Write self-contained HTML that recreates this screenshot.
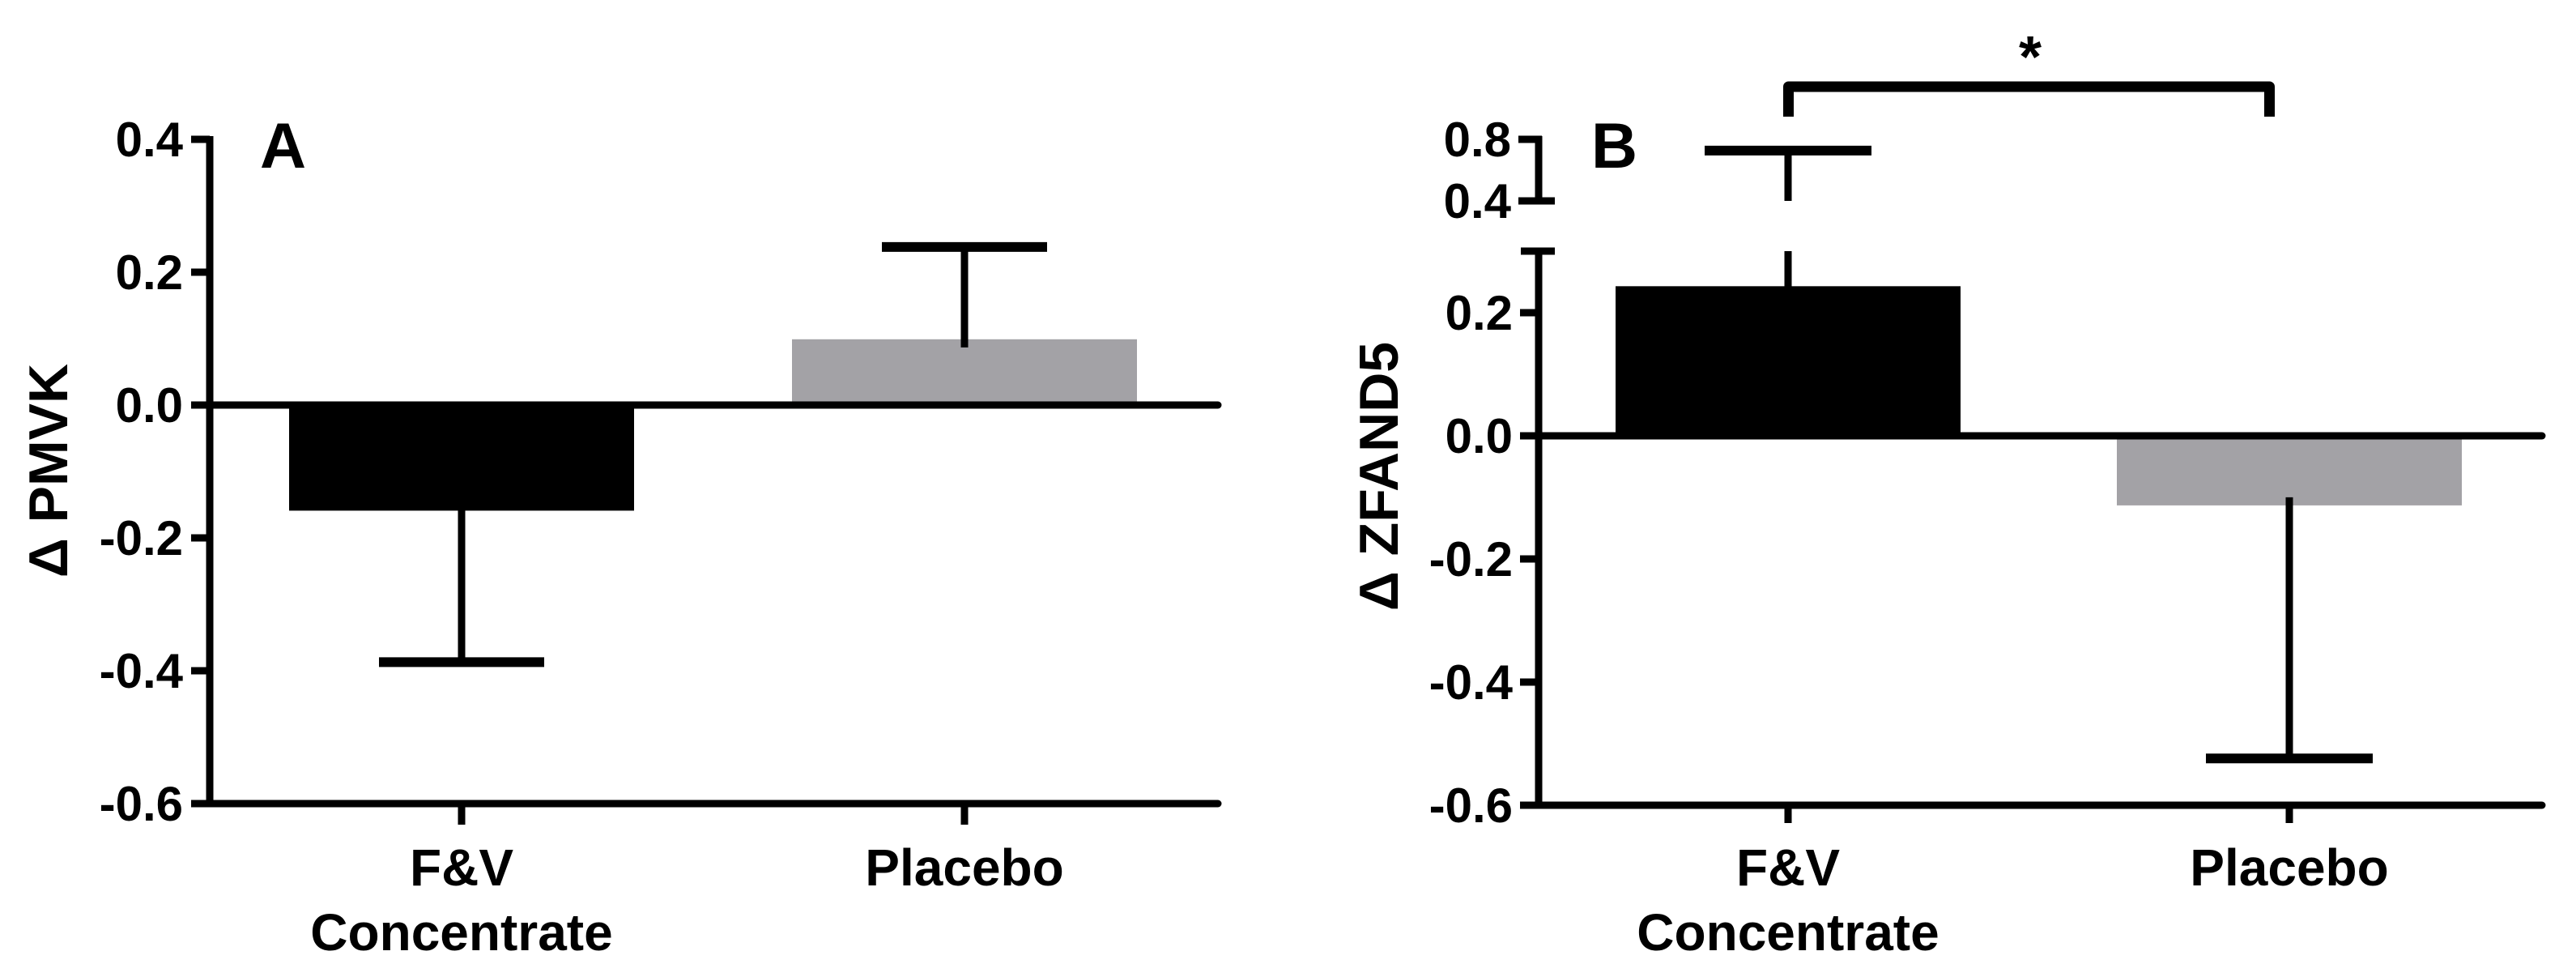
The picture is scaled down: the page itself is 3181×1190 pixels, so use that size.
<!DOCTYPE html>
<html><head><meta charset="utf-8">
<style>
html,body{margin:0;padding:0;background:#fff;}
svg{display:block;}
text{font-family:"Liberation Sans",sans-serif;font-weight:bold;fill:#000;}
</style></head>
<body>
<svg id="chart" width="3181" height="1190" viewBox="0 0 3181 1190" xmlns="http://www.w3.org/2000/svg">
<g id="pa"></g>
<g id="pb"></g>
</svg>
<script>
const categories = ["F&V Concentrate", "Placebo"];
const pmvkValues = [-0.159, 0.099];
const pmvkErrors = [-0.387, 0.238];
const zfandValues = [0.243, -0.113];
const zfandErrors = [0.727, -0.524];
const pmvkTicks = [0.4, 0.2, 0.0, -0.2, -0.4, -0.6];
const zfandLowerTicks = [0.2, 0.0, -0.2, -0.4, -0.6];
const zfandUpperTicks = [0.8, 0.4];
const barColors = ["#000000", "#a3a2a6"];

const NS = "http://www.w3.org/2000/svg";
function mk(parent, tag, attrs, txt) {
  const e = document.createElementNS(NS, tag);
  for (const k in attrs) e.setAttribute(k, attrs[k]);
  if (txt !== undefined) e.textContent = txt;
  parent.appendChild(e);
  return e;
}
function fmt(v){ return (v<0?"-":"") + Math.abs(v).toFixed(1); }

// ---------- Panel A ----------
const pa = document.getElementById("pa");
const yA = v => 500 - v * 820;
const xA = [570, 1191];
const axA = 259, axAEnd = 1504;
const bwA = 426, capA = 204;

pmvkValues.forEach((v, i) => {
  const r = mk(pa, "rect", {x: xA[i] - bwA/2, y: Math.min(yA(v), yA(0)), width: bwA, height: Math.abs(yA(v) - yA(0)), fill: barColors[i]});
  
  
  const eb = mk(pa, "g", {});
  
  
  mk(eb, "line", {x1: xA[i], x2: xA[i], y1: yA(v) + (v<0?-10:10), y2: yA(pmvkErrors[i]), stroke: "#000", "stroke-width": 9});
  mk(eb, "line", {x1: xA[i] - capA/2, x2: xA[i] + capA/2, y1: yA(pmvkErrors[i]), y2: yA(pmvkErrors[i]), stroke: "#000", "stroke-width": 12});
});
const yAxA = mk(pa, "line", {x1: axA, x2: axA, y1: yA(0.4) - 4, y2: yA(-0.6) + 4, stroke: "#000", "stroke-width": 9});


const zA = mk(pa, "line", {x1: axA, x2: axAEnd, y1: yA(0), y2: yA(0), stroke: "#000", "stroke-width": 9, "stroke-linecap": "round"});


const xAxA = mk(pa, "line", {x1: axA, x2: axAEnd, y1: yA(-0.6), y2: yA(-0.6), stroke: "#000", "stroke-width": 9, "stroke-linecap": "round"});


pmvkTicks.forEach(t => {
  mk(pa, "line", {x1: 236, x2: axA, y1: yA(t), y2: yA(t), stroke: "#000", "stroke-width": 9});
  const l = mk(pa, "text", {x: 226, y: yA(t) + 21, "font-size": 60, "text-anchor": "end"}, fmt(t));
  
  
});
xA.forEach(x => mk(pa, "line", {x1: x, x2: x, y1: yA(-0.6), y2: 1018, stroke: "#000", "stroke-width": 9}));
const tA = mk(pa, "text", {x: 0, y: 0, "font-size": 68, "text-anchor": "middle", transform: "translate(83,581) rotate(-90)"}, "\u0394 PMVK");


const lA = mk(pa, "text", {x: 321, y: 207, "font-size": 79}, "A");



function catLabels(g, xs, suffix) {
  const c1 = mk(g, "text", {x: xs[0], y: 1093, "font-size": 64, "text-anchor": "middle"}, "F&V");
  
  
  const c2 = mk(g, "text", {x: xs[0], y: 1173, "font-size": 64, "text-anchor": "middle"}, "Concentrate");
  
  
  const c3 = mk(g, "text", {x: xs[1], y: 1093, "font-size": 64, "text-anchor": "middle"}, "Placebo");
  
  
}
catLabels(pa, xA, 'a');

// ---------- Panel B ----------
const pb = document.getElementById("pb");
const yBl = v => 538 - v * 760;        // lower segment -0.6..0.3
const yBu = v => 248 - (v - 0.4) * 190; // upper segment 0.4..0.8
const yB = v => v > 0.3 ? yBu(v) : yBl(v);
const xB = [2208, 2827];
const axB = 1900, axBEnd = 3139;
const bwB = 426, capB = 206;

zfandValues.forEach((v, i) => {
  const r = mk(pb, "rect", {x: xB[i] - bwB/2, y: Math.min(yBl(v), yBl(0)), width: bwB, height: Math.abs(yBl(v) - yBl(0)), fill: barColors[i]});
  
  
  const eb = mk(pb, "g", {});
  
  
  const e = zfandErrors[i];
  if (e > 0.3) {
    mk(eb, "line", {x1: xB[i], x2: xB[i], y1: yBl(v) + 10, y2: yBl(0.3), stroke: "#000", "stroke-width": 9});
    mk(eb, "line", {x1: xB[i], x2: xB[i], y1: yBu(0.4), y2: yBu(e), stroke: "#000", "stroke-width": 9});
  } else {
    mk(eb, "line", {x1: xB[i], x2: xB[i], y1: yBl(v) - 10, y2: yBl(e), stroke: "#000", "stroke-width": 9});
  }
  mk(eb, "line", {x1: xB[i] - capB/2, x2: xB[i] + capB/2, y1: yB(e), y2: yB(e), stroke: "#000", "stroke-width": 12});
});
const yAxB = mk(pb, "line", {x1: axB, x2: axB, y1: yBl(0.3), y2: yBl(-0.6) + 4, stroke: "#000", "stroke-width": 9});


mk(pb, "line", {x1: 1878, x2: 1920, y1: yBl(0.3), y2: yBl(0.3), stroke: "#000", "stroke-width": 9});
const yAxBu = mk(pb, "line", {x1: axB, x2: axB, y1: yBu(0.8) - 4, y2: yBu(0.4) + 4, stroke: "#000", "stroke-width": 9});


const zB = mk(pb, "line", {x1: axB, x2: axBEnd, y1: yBl(0), y2: yBl(0), stroke: "#000", "stroke-width": 9, "stroke-linecap": "round"});


const xAxB = mk(pb, "line", {x1: axB, x2: axBEnd, y1: yBl(-0.6), y2: yBl(-0.6), stroke: "#000", "stroke-width": 9, "stroke-linecap": "round"});


zfandLowerTicks.forEach(t => {
  mk(pb, "line", {x1: 1877, x2: axB, y1: yBl(t), y2: yBl(t), stroke: "#000", "stroke-width": 9});
  const l = mk(pb, "text", {x: 1868, y: yBl(t) + 21, "font-size": 60, "text-anchor": "end"}, fmt(t));
  
  
});
zfandUpperTicks.forEach(t => {
  mk(pb, "line", {x1: 1875, x2: t === 0.4 ? 1920 : axB + 4, y1: yBu(t), y2: yBu(t), stroke: "#000", "stroke-width": 9});
  const l = mk(pb, "text", {x: 1866, y: yBu(t) + 21, "font-size": 60, "text-anchor": "end"}, fmt(t));
  
  
});
xB.forEach(x => mk(pb, "line", {x1: x, x2: x, y1: yBl(-0.6), y2: 1016, stroke: "#000", "stroke-width": 9}));
const tB = mk(pb, "text", {x: 0, y: 0, "font-size": 68, "text-anchor": "middle", transform: "translate(1726,588) rotate(-90)"}, "\u0394 ZFAND5");


const lB = mk(pb, "text", {x: 1965, y: 207, "font-size": 79}, "B");


catLabels(pb, xB, 'b');

// significance bracket
const br = mk(pb, "path", {d: "M2208.5 144 L2208.5 107 L2802.5 107 L2802.5 144", fill: "none", stroke: "#000", "stroke-width": 13, "stroke-linejoin": "round"});


const st = mk(pb, "text", {x: 2507, y: 95, "font-size": 72, "text-anchor": "middle"}, "*");


</script>
</body></html>
